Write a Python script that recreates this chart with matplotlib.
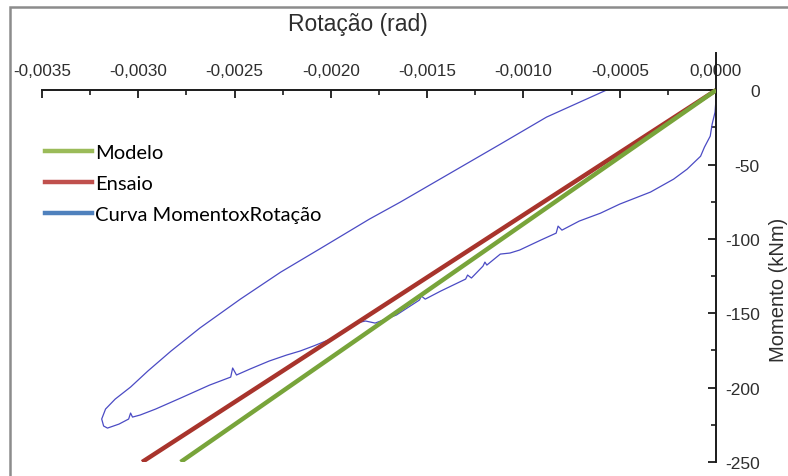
import numpy as np
import matplotlib
matplotlib.use("Agg")
import matplotlib.pyplot as plt
import matplotlib.patches as mpatches
from matplotlib.lines import Line2D
from matplotlib.ticker import MultipleLocator, FixedLocator, FuncFormatter

plt.rcParams["axes.unicode_minus"] = False

# straight lines (model and test), from origin to the bottom of the chart
modelo_rot = [0.0, -0.00278]
modelo_mom = [0.0, -250.0]
ensaio_rot = [0.0, -0.00298]
ensaio_mom = [0.0, -250.0]

# measured moment x rotation loop: loading branch, hook, unloading branch
curva_rot = [0.0, 0.0, -0.000005, -0.00002, -0.00003, -0.00006, -0.00008,
             -0.00015, -0.00022, -0.00034, -0.00050, -0.00060, -0.00071,
             -0.00080, -0.00082, -0.00083, -0.00091, -0.00102, -0.00107,
             -0.00112, -0.00119, -0.00120, -0.00121, -0.00127, -0.00129,
             -0.00130, -0.00143, -0.00151, -0.00153, -0.00154, -0.00166,
             -0.00177, -0.00182, -0.00187, -0.00193, -0.00200, -0.00209,
             -0.00216, -0.00223, -0.00232, -0.00242, -0.00249, -0.00251,
             -0.00252, -0.00263, -0.00278, -0.00291, -0.00299, -0.00303,
             -0.00304, -0.00305, -0.00310, -0.00316, -0.00318, -0.00319,
             -0.00317, -0.00312, -0.00304, -0.00295, -0.00283, -0.00268,
             -0.00247, -0.00226, -0.00206, -0.00180, -0.00164, -0.00138,
             -0.00112, -0.00088, -0.00057]
curva_mom = [0.0, -6.0, -14.8, -22.8, -30.9, -38.3, -44.4,
             -53.1, -59.8, -68.5, -76.6, -82.7, -88.0,
             -94.1, -91.4, -96.1, -100.8, -107.5, -109.5,
             -110.2, -117.6, -115.6, -118.3, -126.3, -124.3,
             -127.0, -135.1, -140.5, -138.4, -141.1, -151.2,
             -156.6, -155.2, -156.6, -162.6, -167.3, -172.0,
             -175.4, -178.1, -182.1, -187.5, -191.5, -186.8,
             -192.9, -198.3, -207.0, -214.4, -218.4, -219.8,
             -217.1, -221.1, -224.5, -227.2, -225.8, -221.1,
             -214.4, -207.7, -199.6, -188.8, -175.4, -159.9,
             -140.5, -122.3, -106.9, -86.7, -75.3, -55.8,
             -36.3, -18.1, 0.0]

legend_labels = ["Modelo", "Ensaio", "Curva MomentoxRotação"]
legend_colors = ["#9BBB59", "#C0504D", "#4F81BD"]

fig = plt.figure(figsize=(7.88, 4.77), dpi=100)
ax = fig.add_axes([42 / 788, 14 / 477, 674 / 788, 409 / 477])

ax.plot(curva_rot, curva_mom, color="#4B4BC4", linewidth=0.9, zorder=2)
ax.plot(ensaio_rot, ensaio_mom, color="#A8342C", linewidth=3.2,
        solid_capstyle="butt", zorder=3)
ax.plot(modelo_rot, modelo_mom, color="#78A43A", linewidth=3.2,
        solid_capstyle="butt", zorder=3)

ax.set_xlim(-0.0035, 0.0)
ax.set_ylim(-250, 25)

for side in ["left", "bottom"]:
    ax.spines[side].set_visible(False)
ax.spines["top"].set_position(("data", 0))
ax.spines["right"].set_position(("data", 0))
for side in ["top", "right"]:
    ax.spines[side].set_linewidth(1.4)
    ax.spines[side].set_color("#1a1a1a")

ax.xaxis.tick_top()
ax.yaxis.tick_right()
ax.xaxis.set_major_locator(MultipleLocator(0.0005))
ax.xaxis.set_minor_locator(MultipleLocator(0.00025))
ax.yaxis.set_major_locator(FixedLocator([0, -50, -100, -150, -200, -250]))
ax.yaxis.set_minor_locator(FixedLocator([-25, -75, -125, -175, -225]))


def fmt_rot(v, pos):
    if abs(v) < 1e-12:
        v = 0.0
    return f"{v:.4f}".replace(".", ",")


ax.xaxis.set_major_formatter(FuncFormatter(fmt_rot))
ax.yaxis.set_major_formatter(FuncFormatter(lambda v, p: f"{v:.0f}"))

ax.tick_params(axis="x", which="major", direction="in", length=6, width=1.3,
               pad=9, labelsize=12.3, labelcolor="#2e2e2e", color="#1a1a1a")
ax.tick_params(axis="x", which="minor", direction="in", length=3.5, width=1.2,
               color="#1a1a1a")
ax.tick_params(axis="y", which="major", direction="in", length=6, width=1.3,
               pad=31.5, labelsize=12.5, labelcolor="#2e2e2e", color="#1a1a1a")
ax.tick_params(axis="y", which="minor", direction="in", length=3.5, width=1.2,
               color="#1a1a1a")
for lab in ax.get_xticklabels() + ax.get_yticklabels():
    lab.set_fontfamily("Liberation Sans")
for lab in ax.get_yticklabels():
    lab.set_horizontalalignment("right")

fig.text(358 / 788, 1 - 25 / 477, "Rotação (rad)", ha="center", va="center",
         fontsize=16.5, family="Liberation Sans", color="#2e2e2e")
fig.text(779 / 788, 1 - 290 / 477, "Momento (kNm)", ha="center", va="center",
         rotation=90, fontsize=14.5, family="Liberation Sans", color="#2e2e2e")

handles = [Line2D([0], [0], color=c, linewidth=3.2) for c in legend_colors]
ax.legend(handles, legend_labels, loc="upper left",
          bbox_to_anchor=(3 / 674, (463 - 145) / 409), frameon=False,
          borderpad=0, borderaxespad=0, handlelength=2.35, handletextpad=0.12,
          labelspacing=0.68, prop={"family": "Lato", "size": 14.5})

# grey frame around the picture
fig.patches.append(mpatches.Rectangle((10 / 788, -0.1), 1.2, (477 - 8) / 477 + 0.1,
                                      transform=fig.transFigure, fill=False,
                                      edgecolor="#8c8c8c", linewidth=1.8))

fig.savefig("out.png", dpi=100)
